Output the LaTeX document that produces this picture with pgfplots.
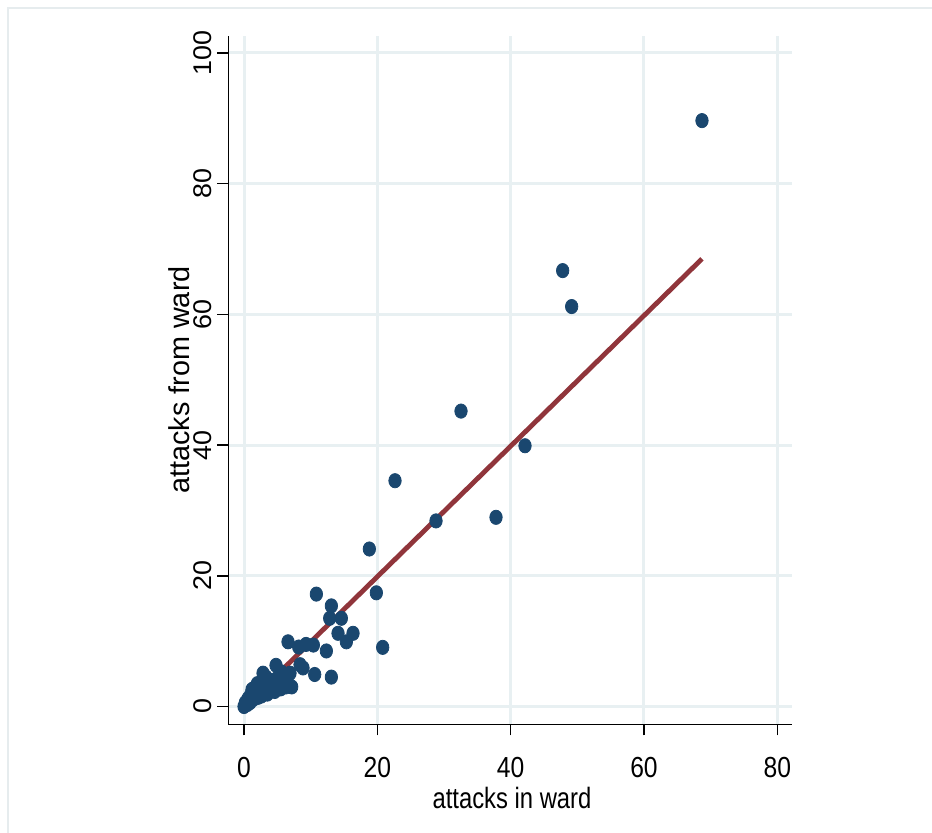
\documentclass[border=0pt]{standalone}
\usepackage{pgfplots}
\pgfplotsset{compat=1.18}
\usepackage{fontspec}
\setmainfont{Liberation Sans}
\newfontfamily\xfont[FakeStretch=0.85]{Liberation Sans}
\newfontfamily\xlfont[FakeStretch=0.81]{Liberation Sans}
\newfontfamily\yfont[FakeStretch=1.05]{Liberation Sans}
\definecolor{navy}{RGB}{26,71,111}
\definecolor{cranb}{RGB}{144,53,59}
\definecolor{gridc}{RGB}{232,240,242}
\definecolor{framec}{RGB}{230,236,238}
\begin{document}
\begin{tikzpicture}
\path[use as bounding box] (0,0) rectangle (466pt,416.5pt);
\draw[framec, line width=0.6pt] (4pt,0pt) -- (4pt,412.5pt) -- (466pt,412.5pt);
\begin{axis}[
  at={(114.15pt,54.35pt)}, anchor=south west,
  scale only axis, width=282pt, height=344.15pt,
  xmin=-2.36, xmax=82.25, ymin=-2.72, ymax=102.6,
  axis x line*=bottom, axis y line*=left,
  axis line style={black, line width=0.7pt},
  xtick={0,20,40,60,80}, xticklabels={0,20,40,60,80},
  ytick={0,20,40,60,80,100}, yticklabels={0,20,40,60,80,100},
  tick align=outside,
  major tick length=5.5pt,
  tick style={black, line width=0.7pt},
  grid=major,
  major grid style={gridc, line width=1.5pt},
  xticklabel style={font=\xfont\fontsize{14.5}{16}\selectfont, anchor=base, inner sep=0pt, yshift=-21pt},
  yticklabel style={font=\yfont\fontsize{12.8}{15}\selectfont, xshift=-3pt, rotate=90, anchor=base, inner sep=0pt},
  clip=false,
]
\addplot[only marks, mark=*, mark size=3.1pt, mark options={yscale=1.15, fill=navy, draw=navy}] coordinates {
(68.7,89.65) (47.8,66.7) (49.15,61.2) (32.55,45.2) (42.15,39.9)
(22.65,34.55) (28.8,28.4) (37.8,28.95) (18.8,24.1) (19.85,17.4)
(10.85,17.2) (20.8,9.05) (13.1,15.4) (12.85,13.5) (14.6,13.5)
(14.1,11.2) (16.35,11.2) (15.35,9.9) (6.6,9.9) (8.2,9.1)
(9.3,9.5) (10.4,9.4) (12.35,8.5) (8.4,6.4) (8.85,5.9)
(10.6,4.9) (13.1,4.5)
(0,0) (0.2,0.6) (0.5,0.3) (0.6,1.2) (0.9,0.6) (1.0,1.8) (1.2,2.6)
(1.4,1.1) (1.7,2.0) (1.9,3.0) (2.1,1.4) (2.3,2.4) (2.6,1.6) (2.85,5.1)
(3.0,3.2) (3.2,2.2) (3.5,1.9) (3.7,3.6) (4.0,2.6) (4.3,4.0) (4.8,6.3)
(4.6,2.3) (5.0,3.1) (5.2,4.6) (5.5,2.7) (5.9,3.6) (6.1,4.1) (6.3,3.0)
(6.5,4.5) (6.9,5.1) (7.15,3.0) (3.3,4.5) (2.0,3.5) (1.5,2.8) (5.6,5.3)
};
\addplot[cranb, line width=2.4pt, no marks] coordinates {(0,-0.1) (68.7,68.5)};
\end{axis}
\node[anchor=base, inner sep=0pt, font=\xlfont\fontsize{14.7}{17}\selectfont] at (256pt,12pt) {attacks in ward};
\node[rotate=90, anchor=base, inner sep=0pt, font=\fontsize{14.4}{16}\selectfont] at (94.6pt,226.5pt) {attacks from ward};
\end{tikzpicture}
\end{document}
